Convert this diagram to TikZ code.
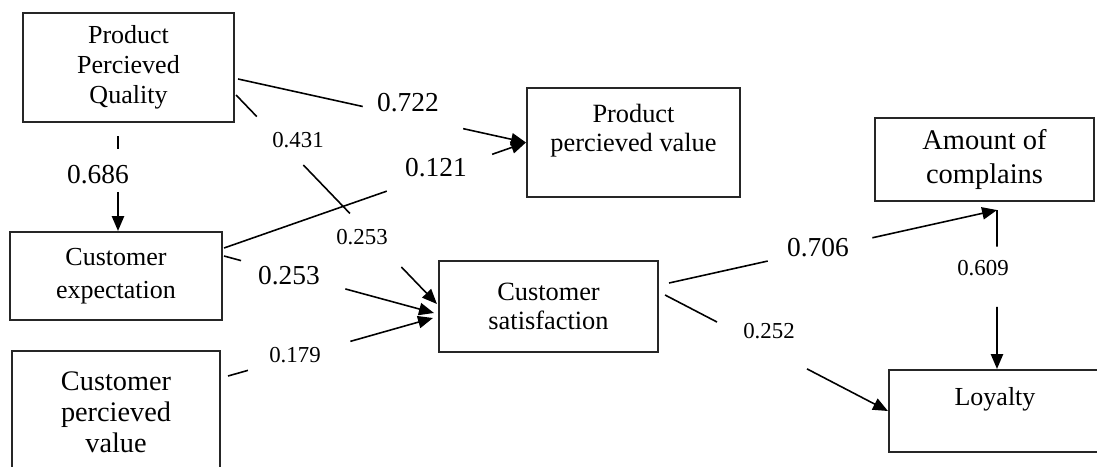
\documentclass[tikz,border=0pt]{standalone}
\usepackage{fontspec}
\setmainfont{Liberation Serif}
\usetikzlibrary{arrows.meta, calc}
\tikzset{
  %% Construct box
  cbox/.style={
    rectangle, draw=black!85, line width=1.2pt,
    align=center, inner sep=0pt,
    font=\fontsize{14.8}{17.1}\selectfont
  },
  %% Path coefficients (large / small)
  coef/.style={font=\fontsize{15.6}{18}\selectfont, inner sep=1pt},
  coefs/.style={font=\fontsize{13}{15}\selectfont, inner sep=1pt},
  %% Connector pieces
  lnk/.style={line width=0.9pt},
  arr/.style={-{Triangle[length=8.5pt,width=7pt]}, line width=0.9pt},
}

\begin{document}
\begin{tikzpicture}
  \useasboundingbox (0,0) rectangle (21.94,9.32);

  %% Constructs
  \node[cbox, minimum width=4.22cm, minimum height=2.18cm] (ppq) at (2.57,7.97)
       {Product\\Percieved\\Quality};
  \node[cbox, minimum width=4.24cm, minimum height=1.76cm,
        font=\fontsize{14.8}{18.8}\selectfont] (ce) at (2.32,3.80)
       {Customer\\expectation};
  \node[cbox, minimum width=4.16cm, minimum height=2.44cm,
        font=\fontsize{16.1}{17.6}\selectfont] (cpv) at (2.32,1.08)
       {Customer\\percieved\\value};
  \node[cbox, minimum width=4.26cm, minimum height=2.18cm,
        font=\fontsize{15}{16.5}\selectfont] (ppv) at (12.67,6.47)
       {Product\\percieved value\\\mbox{}};
  \node[cbox, minimum width=4.38cm, minimum height=1.82cm,
        font=\fontsize{15}{16.5}\selectfont] (cs) at (10.97,3.19)
       {Customer\\satisfaction};
  \node[cbox, minimum width=4.38cm, minimum height=1.66cm,
        font=\fontsize{16.2}{19.3}\selectfont] (aoc) at (19.69,6.13)
       {Amount of\\complains};
  \node[cbox, minimum width=4.24cm, minimum height=1.64cm] (loy) at (19.90,1.10)
       {Loyalty\\\mbox{}};

  %% Connector end points
  \coordinate (qes) at ($(ppq.south)+(-0.21,-0.26)$);
  \coordinate (qee) at ($(ce.north)+(0.04,0)$);
  \coordinate (qvs) at ($(ppq.east)+(0.06,-0.23)$);
  \coordinate (qve) at (ppv.west);
  \coordinate (evs) at ($(ce.east)+(0.02,0.56)$);
  \coordinate (eve) at (ppv.west);
  \coordinate (qss) at ($(ppq.east)+(0.02,-0.55)$);
  \coordinate (qse) at ($(cs.west)+(-0.02,0.05)$);
  \coordinate (ess) at ($(ce.east)+(0.02,0.40)$);
  \coordinate (ese) at ($(cs.west)+(-0.08,-0.13)$);
  \coordinate (css) at ($(cpv.east)+(0.14,0.72)$);
  \coordinate (cse) at ($(cs.west)+(-0.1,-0.23)$);
  \coordinate (sas) at ($(cs.east)+(0.2,0.47)$);
  \coordinate (sae) at ($(aoc.south)+(0.25,-0.16)$);
  \coordinate (als) at (sae);
  \coordinate (ale) at ($(loy.north)+(0.04,0)$);
  \coordinate (sls) at ($(cs.east)+(0.12,0.23)$);
  \coordinate (sle) at (loy.west);

  %% Connectors broken round their coefficient
  \foreach \s/\e/\a/\b in {qes/qee/0.134/0.588, qvs/qve/0.433/0.782,
                           evs/eve/0.539/0.888, ess/ese/0.081/0.578,
                           css/cse/0.097/0.597, sas/sae/0.301/0.62,
                           als/ale/0.23/0.609, sls/sle/0.233/0.637}
  {
    \draw[lnk] (\s) -- ($(\s)!\a!(\e)$);
    \draw[arr] ($(\s)!\b!(\e)$) -- (\e);
  }

  %% Quality -> satisfaction carries two coefficients
  \draw[lnk] (qss) -- ($(qss)!0.103!(qse)$);
  \draw[lnk] ($(qss)!0.335!(qse)$) -- ($(qss)!0.567!(qse)$);
  \draw[arr] ($(qss)!0.823!(qse)$) -- (qse);

  %% Coefficients
  \node[coef]  (lqe)  at (1.96,5.82)  {0.686};
  \node[coef]  (lqv)  at (8.16,7.26)  {0.722};
  \node[coefs] (lqs1) at (5.96,6.52)  {0.431};
  \node[coef]  (lev)  at (8.72,5.96)  {0.121};
  \node[coefs] (lqs2) at (7.24,4.58)  {0.253};
  \node[coef]  (les)  at (5.78,3.80)  {0.253};
  \node[coefs] (lcs)  at (5.90,2.22)  {0.179};
  \node[coef]  (lsa)  at (16.36,4.36) {0.706};
  \node[coefs] (lal)  at (19.66,3.96) {0.609};
  \node[coefs] (lsl)  at (15.38,2.70) {0.252};

\end{tikzpicture}
\end{document}
